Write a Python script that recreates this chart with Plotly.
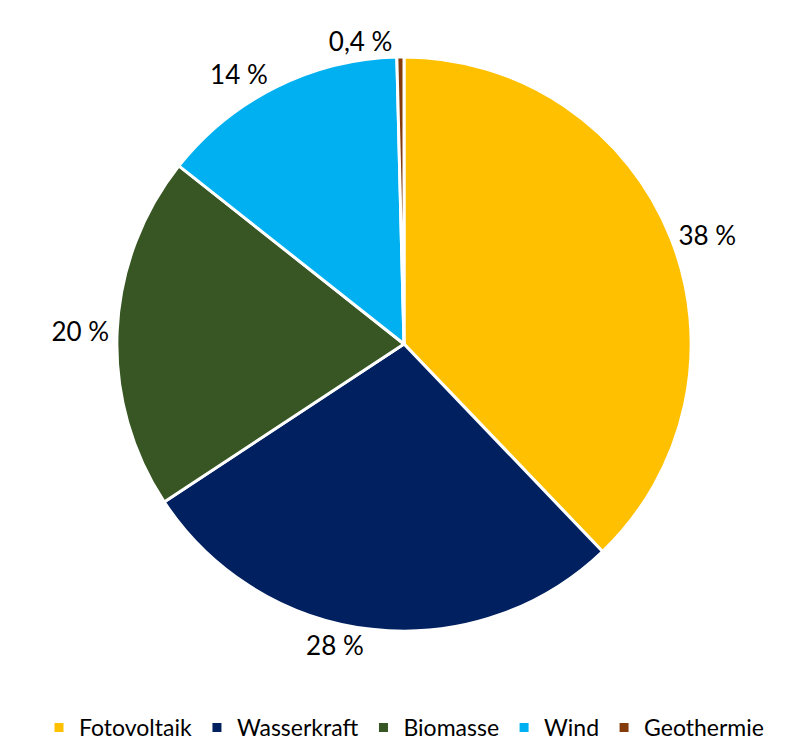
import plotly.graph_objects as go

categories = ["Fotovoltaik", "Wasserkraft", "Biomasse", "Wind", "Geothermie"]
values = [38, 28, 20, 14, 0.4]
labels_text = ["38 %", "28 %", "20 %", "14 %", "0,4 %"]
colors = ["#FFC000", "#002060", "#375623", "#00B0F0", "#843C0C"]

fig = go.Figure(go.Pie(
    labels=categories,
    values=values,
    text=labels_text,
    textinfo="text",
    textposition="outside",
    automargin=False,
    sort=False,
    direction="clockwise",
    rotation=0,
    domain=dict(x=[0.0, 0.979], y=[0.159, 0.934]),
    marker=dict(colors=colors, line=dict(color="white", width=3)),
    textfont=dict(size=26, color="#000000"),
    hoverinfo="label+percent",
))

fig.update_layout(
    width=809,
    height=741,
    paper_bgcolor="white",
    plot_bgcolor="white",
    font=dict(family="Lato, Carlito, sans-serif", color="#000000"),
    margin=dict(l=0, r=0, t=0, b=0, autoexpand=False),
    showlegend=True,
    legend=dict(
        orientation="h",
        x=0.4895, xanchor="center",
        y=0.0, yanchor="bottom",
        font=dict(size=23),
        itemwidth=30,
    ),
)

fig.write_html("out.html")
